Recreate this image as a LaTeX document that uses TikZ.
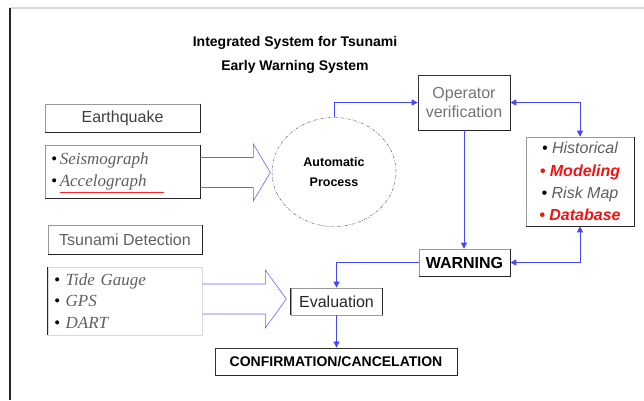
\documentclass[tikz,border=0pt]{standalone}
\usepackage{fontspec}
\setmainfont{Liberation Sans}
\newfontfamily\timesf{Liberation Serif}
\usetikzlibrary{arrows.meta,shapes.geometric,positioning}
\definecolor{linkblue}{RGB}{70,70,255}
\definecolor{txtgray}{RGB}{95,95,95}
\definecolor{itemred}{RGB}{240,20,20}

\begin{document}
\begin{tikzpicture}[x=1pt,y=-1pt,inner sep=0pt]
\tikzstyle{box}=[rectangle, draw=black!40, line width=0.6pt, align=center, text=txtgray, font=\fontsize{16}{19}\selectfont]
\tikzstyle{edge}=[line width=1.3pt, black!85]
\tikzstyle{item}=[box, inner xsep=6pt, align=left, font=\timesf\itshape\fontsize{17}{22.5}\selectfont]
\tikzstyle{connect}=[-{Triangle[length=6pt,width=6pt]}, linkblue, line width=0.8pt]
\tikzstyle{both}=[{Triangle[length=6pt,width=6pt]}-{Triangle[length=6pt,width=6pt]}, linkblue, line width=0.8pt]
\tikzstyle{hollow}=[blue!60, line width=0.6pt, line join=miter]
\useasboundingbox (0,0) rectangle (644,400);
% frame
\draw[black!15, line width=2pt] (10,8) -- (644,8);
\draw[black!85, line width=2pt] (10,8) -- (10,400);
% title
\node[font=\bfseries\fontsize{14}{24}\selectfont, align=center] (title) at (295,55) {Integrated System for Tsunami\\Early Warning System};
% inputs
\node[box, minimum width=155pt, minimum height=28pt, text=black!75] (quake) at (122.5,118) {Earthquake};
\node[item, minimum width=155pt, minimum height=53pt, text width=143pt] (seis) at (122.5,171.5)
  {{\color{black}\textbullet}\,Seismograph\\{\color{black}\textbullet}\,Accelograph};
\draw[red!85, line width=0.8pt] ([shift={(15,-6)}]seis.south west) -- ++(104,0);
\node[box, minimum width=154pt, minimum height=29pt] (tsudet) at (125,239.5) {Tsunami Detection};
\node[item, draw=black!15, minimum width=154pt, minimum height=68pt, text width=142pt, font=\timesf\itshape\fontsize{17}{21.5}\selectfont] (tide) at (125,301)
  {{\color{black}\textbullet} Tide Gauge\\{\color{black}\textbullet} GPS\\{\color{black}\textbullet} DART};
% processing
\node[ellipse, draw=black!70, dash pattern=on 3pt off 1.5pt on 0.8pt off 1.5pt, minimum width=124pt, minimum height=109pt, align=center, font=\bfseries\fontsize{12.5}{20}\selectfont] (auto) at (334,172) {Automatic\\Process};
\node[box, draw=black!80, minimum width=92pt, minimum height=55pt, text=black!55] (oper) at (464,102.5) {Operator\\verification};
\node[box, minimum width=108pt, minimum height=89pt, font=\itshape\fontsize{16}{22.3}\selectfont] (data) at (580,181.5)
  {{\color{black}\textbullet} Historical\\\textcolor{itemred}{\bfseries\textbullet\ Modeling}\\{\color{black}\textbullet} Risk Map\\\textcolor{itemred}{\bfseries\textbullet\ Database}};
\node[box, minimum width=91pt, minimum height=27pt, text=black, font=\bfseries\fontsize{16}{19}\selectfont] (warn) at (464.5,262.5) {WARNING};
\node[box, minimum width=91pt, minimum height=27pt, text=black!85] (eval) at (336.5,301.5) {Evaluation};
\node[box, draw=black!80, line width=0.9pt, minimum width=242pt, minimum height=27pt, text=black, font=\bfseries\fontsize{14}{17}\selectfont] (conf) at (336,361.5) {CONFIRMATION/CANCELATION};
% shaded borders
\foreach \n in {quake,seis,tsudet,oper,data,warn,conf}
  \draw[edge] (\n.north east) -- (\n.south east) -- (\n.south west);
\draw[edge] (tide.north west) -- (tide.south west);
\draw[edge] (eval.north west) -- (eval.south west);
\draw[edge] (eval.north east) -- (eval.south east);
% hollow arrows
\draw[hollow] (seis.east) ++(0,-14) -- ++(53,0) -- ++(0,-13.5) -- ++(17,28.5) -- ++(-17,28.5) -- ++(0,-13.5) -- ++(-53,0);
\draw[hollow] (tide.east) ++(0,-17) -- ++(63,0) -- ++(0,-14) -- ++(21,29) -- ++(-21,29) -- ++(0,-14) -- ++(-63,0);
% connectors
\draw[connect] (auto.north) |- (oper.west);
\draw[both] (oper.east) -| (data.north);
\draw[connect] (oper.south) -- (oper.south |- warn.north);
\draw[both] (warn.east) -| (data.south);
\draw[connect] (warn.west) -| (eval.north);
\draw[connect] (eval.south) -- (eval.south |- conf.north);
\end{tikzpicture}
\end{document}
